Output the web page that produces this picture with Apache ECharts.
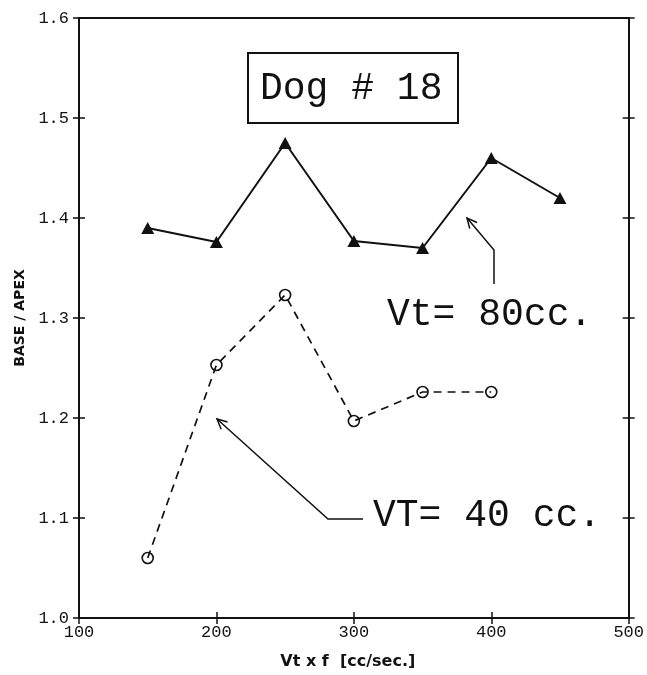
<!DOCTYPE html>
<html>
<head>
<meta charset="utf-8">
<script src="https://cdn.jsdelivr.net/npm/echarts@6/dist/echarts.min.js"></script>
<style>
  html, body { margin: 0; padding: 0; background: #fff; }
  #chart { width: 647px; height: 675px; }
</style>
</head>
<body>
<div id="chart"></div>
<script>
// Flow rate Vt x f (cc/sec) and BASE / APEX ratio, dog #18
const flowRates = [150, 200, 250, 300, 350, 400, 450];
const ratioVt80 = [1.39, 1.376, 1.475, 1.377, 1.370, 1.460, 1.420];
const flowRates40 = [150, 200, 250, 300, 350, 400];
const ratioVt40 = [1.060, 1.253, 1.323, 1.197, 1.226, 1.226];
const xTicks = [100, 200, 300, 400, 500];
const yTicks = [1.0, 1.1, 1.2, 1.3, 1.4, 1.5, 1.6];

const INK = '#111';
const monoFont = '"Liberation Mono", "DejaVu Sans Mono", monospace';

const chart = echarts.init(document.getElementById('chart'), null, { renderer: 'canvas' });

const baseAxisLine = { show: true, lineStyle: { color: INK, width: 2 } };

function xAxisDef(extra) {
  return Object.assign({
    type: 'value', min: xTicks[0], max: xTicks[xTicks.length - 1], interval: 100,
    splitLine: { show: false }, axisLine: baseAxisLine
  }, extra);
}
function yAxisDef(extra) {
  return Object.assign({
    type: 'value', min: yTicks[0], max: yTicks[yTicks.length - 1], interval: 0.1,
    splitLine: { show: false }, axisLine: baseAxisLine
  }, extra);
}

const hidden = { show: false };

function arrowHead(tip, from, len, spread) {
  const ang = Math.atan2(from[1] - tip[1], from[0] - tip[0]);
  const a1 = ang + spread, a2 = ang - spread;
  return [
    [tip[0] + len * Math.cos(a1), tip[1] + len * Math.sin(a1)],
    tip,
    [tip[0] + len * Math.cos(a2), tip[1] + len * Math.sin(a2)]
  ];
}

const tip80 = [467, 218], knee80 = [494, 250];
const tip40 = [217, 419], knee40 = [328, 519];

chart.setOption({
  animation: false,
  backgroundColor: '#fff',
  grid: { left: 79, right: 16, top: 18, bottom: 57 },
  xAxis: [
    xAxisDef({
      position: 'bottom',
      name: 'Vt x f  [cc/sec.]', nameLocation: 'middle', nameGap: 36,
      nameTextStyle: { fontFamily: '"DejaVu Sans", sans-serif', fontWeight: 'bold', fontSize: 16, color: INK,
        padding: [0, 12, 0, 0] },
      axisTick: { show: true, inside: true, length: 6, lineStyle: { color: INK, width: 1.5 } },
      axisLabel: { show: true, margin: 6, color: INK, fontFamily: monoFont, fontSize: 17,
        formatter: v => String(v) }
    }),
    xAxisDef({
      position: 'bottom', axisLine: hidden, axisLabel: hidden,
      axisTick: { show: true, inside: false, length: 6, lineStyle: { color: INK, width: 1.5 } }
    }),
    xAxisDef({ position: 'top', axisTick: hidden, axisLabel: hidden })
  ],
  yAxis: [
    yAxisDef({
      position: 'left',
      name: 'BASE / APEX', nameLocation: 'middle', nameGap: 49,
      nameTextStyle: { fontFamily: '"DejaVu Sans", sans-serif', fontWeight: 'bold', fontSize: 14, color: INK },
      axisTick: { show: true, inside: true, length: 6, lineStyle: { color: INK, width: 1.5 } },
      axisLabel: { show: true, margin: 10, color: INK, fontFamily: monoFont, fontSize: 17,
        formatter: v => v.toFixed(1) }
    }),
    yAxisDef({
      position: 'left', axisLine: hidden, axisLabel: hidden,
      axisTick: { show: true, inside: false, length: 6, lineStyle: { color: INK, width: 1.5 } }
    }),
    yAxisDef({
      position: 'right', axisLabel: hidden,
      axisTick: { show: true, inside: true, length: 6, lineStyle: { color: INK, width: 1.5 } }
    }),
    yAxisDef({
      position: 'right', axisLine: hidden, axisLabel: hidden,
      axisTick: { show: true, inside: false, length: 6, lineStyle: { color: INK, width: 1.5 } }
    })
  ],
  series: [
    {
      name: 'Vt= 80cc.', type: 'line', xAxisIndex: 0, yAxisIndex: 0,
      data: flowRates.map((x, i) => [x, ratioVt80[i]]),
      symbol: 'triangle', symbolSize: [13, 12],
      itemStyle: { color: INK },
      lineStyle: { color: INK, width: 2 }
    },
    {
      name: 'VT= 40 cc.', type: 'line', xAxisIndex: 0, yAxisIndex: 0,
      data: flowRates40.map((x, i) => [x, ratioVt40[i]]),
      symbol: 'circle', symbolSize: 11, showAllSymbol: true,
      itemStyle: { color: 'rgba(0,0,0,0)', borderColor: INK, borderWidth: 1.6 },
      lineStyle: { color: INK, width: 1.7, type: [8, 6] }
    }
  ],
  graphic: [
    // title box
    { type: 'rect', shape: { x: 248, y: 53, width: 210, height: 70 },
      style: { fill: '#fff', stroke: INK, lineWidth: 2 }, z: 10 },
    { type: 'text', x: 260, y: 89, z: 11,
      style: { text: 'Dog # 18', font: '38px ' + monoFont, fill: INK, textVerticalAlign: 'middle' } },
    // Vt = 80 cc label and arrow
    { type: 'text', x: 387, y: 315, z: 11,
      style: { text: 'Vt= 80cc.', font: '38px ' + monoFont, fill: INK, textVerticalAlign: 'middle' } },
    { type: 'polyline', z: 11, shape: { points: [[494, 284], knee80, tip80] },
      style: { stroke: INK, lineWidth: 1.5, fill: null } },
    { type: 'polyline', z: 11, shape: { points: arrowHead(tip80, knee80, 11, 0.45) },
      style: { stroke: INK, lineWidth: 1.5, fill: null } },
    // VT = 40 cc label and arrow
    { type: 'text', x: 373, y: 516, z: 11,
      style: { text: 'VT= 40 cc.', font: '38px ' + monoFont, fill: INK, textVerticalAlign: 'middle' } },
    { type: 'polyline', z: 11, shape: { points: [[363, 519], knee40, tip40] },
      style: { stroke: INK, lineWidth: 1.5, fill: null } },
    { type: 'polyline', z: 11, shape: { points: arrowHead(tip40, knee40, 11, 0.45) },
      style: { stroke: INK, lineWidth: 1.5, fill: null } }
  ]
});
</script>
</body>
</html>
